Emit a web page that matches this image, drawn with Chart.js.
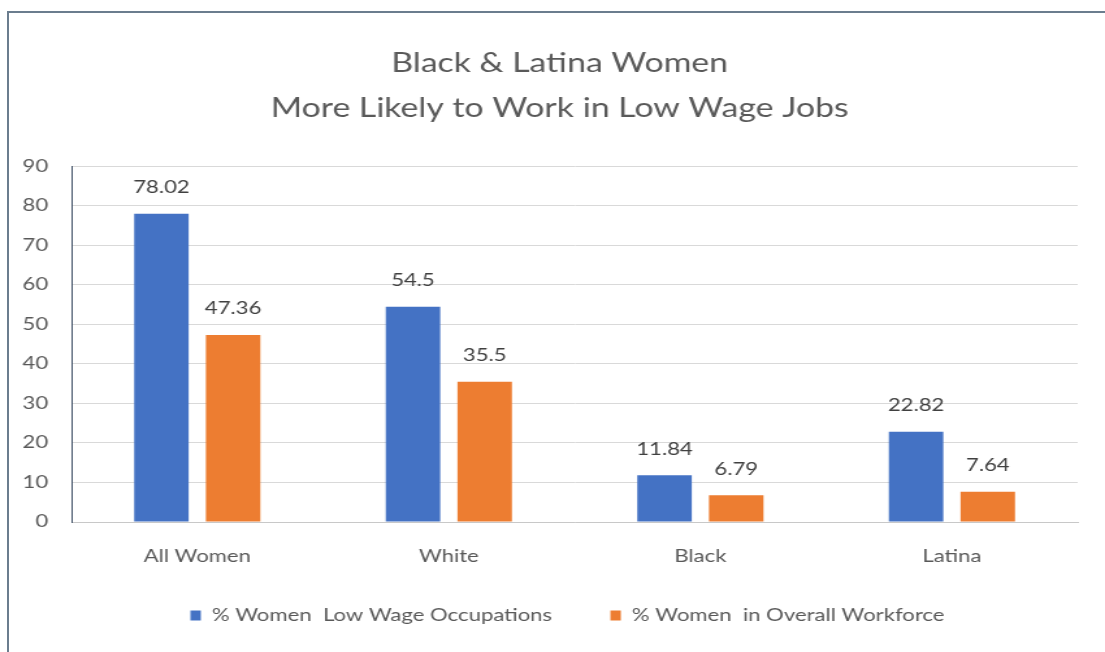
<!DOCTYPE html>
<html>
<head>
<meta charset="utf-8">
<script src="https://cdn.jsdelivr.net/npm/chart.js@4.4.1/dist/chart.umd.min.js"></script>
<style>
  html, body { margin: 0; padding: 0; background: #fff; overflow: hidden; }
  #wrap { position: relative; width: 1105px; height: 652px; }
  /* the source picture is stretched sideways, so the canvas is too */
  canvas { position: absolute; left: 0; top: 0; transform: scaleX(1.3); transform-origin: 0 0; }
  #frame { position: absolute; left: 7px; top: 11px; right: 0; bottom: 0;
    border-top: 2px solid #6b7d8e; border-left: 2px solid #6b7d8e; pointer-events: none; }
</style>
</head>
<body>
<div id="wrap">
  <canvas id="bar-chart" width="850" height="652"></canvas>
  <div id="frame"></div>
</div>
<script>
const categories = ['All Women', 'White', 'Black', 'Latina'];
const lowWageValues = [78.02, 54.5, 11.84, 22.82];
const workforceValues = [47.36, 35.5, 6.79, 7.64];
const yTicks = [0, 10, 20, 30, 40, 50, 60, 70, 80, 90];

const FONT = 'Lato, "Open Sans", sans-serif';

// value labels above each bar
const barLabels = {
	id: 'barLabels',
	afterDatasetsDraw(chart) {
		const ctx = chart.ctx;
		ctx.save();
		ctx.font = '17px ' + FONT;
		ctx.fillStyle = '#404040';
		ctx.textAlign = 'center';
		ctx.textBaseline = 'middle';
		chart.data.datasets.forEach((ds, i) => {
			chart.getDatasetMeta(i).data.forEach((bar, j) => {
				ctx.fillText(String(ds.data[j]), bar.x, bar.y - 26);
			});
		});
		ctx.restore();
	},
};

// title and legend sit a bit right of the canvas centre in the source
const nudge = {
	id: 'nudge',
	afterLayout(chart) {
		if (chart.titleBlock) {
			chart.titleBlock.left += 12;
			chart.titleBlock.right += 12;
		}
		if (chart.legend) {
			chart.legend.left += 18;
			chart.legend.right += 18;
		}
	},
};

const ctx = document.getElementById('bar-chart').getContext('2d');
new Chart(ctx, {
	type: 'bar',
	data: {
		labels: categories,
		datasets: [
			{
				label: '% Women  Low Wage Occupations        ',
				data: lowWageValues,
				backgroundColor: '#4472c4',
				categoryPercentage: 0.57,
				barPercentage: 0.76,
			},
			{
				label: '% Women  in Overall Workforce',
				data: workforceValues,
				backgroundColor: '#ed7d31',
				categoryPercentage: 0.57,
				barPercentage: 0.76,
			},
		],
	},
	options: {
		responsive: false,
		animation: false,
		layout: { padding: { left: 8, right: 21, top: 42, bottom: 18 } },
		plugins: {
			title: {
				display: true,
				text: ['Black & Latina Women', 'More Likely to Work in Low Wage Jobs'],
				color: '#595959',
				font: { family: FONT, size: 26, weight: 'normal', lineHeight: 1.7 },
				padding: { top: 0, bottom: 36 },
			},
			legend: {
				position: 'bottom',
				labels: {
					color: '#595959',
					font: { family: FONT, size: 17 },
					boxWidth: 8,
					boxHeight: 10,
					padding: 10,
				},
			},
			tooltip: { enabled: false },
		},
		scales: {
			x: {
				afterFit(scale) {
					scale.height = 75;
				},
				grid: { display: false },
				border: { color: '#c8c8c8' },
				ticks: { color: '#595959', font: { family: FONT, size: 17 }, padding: 16 },
			},
			y: {
				min: 0,
				max: 90,
				afterBuildTicks(scale) {
					scale.ticks = yTicks.map(v => ({ value: v }));
				},
				afterFit(scale) {
					scale.width = 47;
				},
				grid: { color: '#d9d9d9', drawTicks: false },
				border: { color: '#44546a', width: 1 },
				ticks: { color: '#595959', font: { family: FONT, size: 17 }, padding: 18 },
			},
		},
	},
	plugins: [barLabels, nudge],
});
</script>
</body>
</html>
